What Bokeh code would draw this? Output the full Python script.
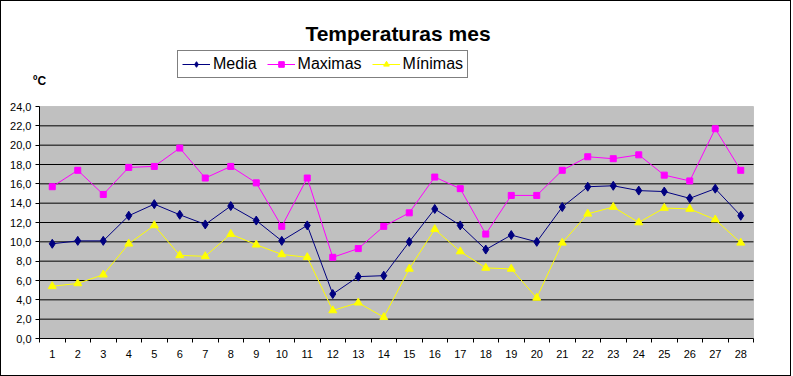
from bokeh.plotting import figure
from bokeh.layouts import column
from bokeh.models import (Range1d, FixedTicker, CustomJSTickFormatter, Legend, LegendItem,
                          Label, BoxAnnotation)
from bokeh.embed import file_html
from bokeh.resources import INLINE

dias = list(range(1, 29))
media = [9.8, 10.1, 10.1, 12.7, 13.9, 12.8, 11.8, 13.7, 12.2, 10.1, 11.7, 4.6, 6.4, 6.5,
         10.0, 13.4, 11.7, 9.2, 10.7, 10.0, 13.6, 15.7, 15.8, 15.3, 15.2, 14.5, 15.5, 12.7]
maximas = [15.7, 17.4, 14.9, 17.7, 17.8, 19.7, 16.6, 17.8, 16.1, 11.6, 16.6, 8.4, 9.3, 11.6,
           13.0, 16.7, 15.5, 10.8, 14.8, 14.8, 17.4, 18.8, 18.6, 19.0, 16.9, 16.3, 21.7, 17.4]
minimas = [5.4, 5.7, 6.6, 9.8, 11.7, 8.6, 8.5, 10.8, 9.7, 8.7, 8.4, 2.9, 3.7, 2.2,
           7.2, 11.3, 9.0, 7.3, 7.2, 4.2, 9.9, 12.9, 13.6, 12.0, 13.5, 13.4, 12.3, 9.9]
y_ticks = list(range(0, 25, 2))
y_min, y_max = 0, 24
x_min, x_max = 0.5, 28.5
titulo = "Temperaturas mes"
unidad = "ºC"
series = ["Media", "Maximas", "Mínimas"]

FONT = "Liberation Sans"

# canvas geometry (789 x 374 inside a 1px border); the frame covers the whole canvas
W, H = 789, 374
PL, PR, PT, PB = 38, 752, 105, 337      # canvas px of the grey plot area edges
sx = (PR - PL) / (x_max - x_min)
sy = (PB - PT) / (y_max - y_min)
x_start, x_end = x_min - PL / sx, x_max + (W - PR) / sx
y_start, y_end = y_min - (H - PB) / sy, y_max + PT / sy


def xdata(cx):
    return x_start + cx / sx


def ydata(cy):
    return y_end - cy / sy


p = figure(width=W, height=H, x_range=Range1d(x_start, x_end), y_range=Range1d(y_start, y_end),
           output_backend="svg", toolbar_location=None,
           min_border_left=0, min_border_right=0, min_border_top=0, min_border_bottom=0,
           background_fill_color="white", border_fill_color="white",
           outline_line_color=None)

# grey plot area
p.add_layout(BoxAnnotation(left=x_min, right=x_max, bottom=y_min, top=y_max,
                           fill_color="#C0C0C0", fill_alpha=1,
                           line_color="#808080", line_width=1, level="image"))

# x axis
p.xaxis.fixed_location = y_min
p.xaxis.bounds = (x_min, x_max)
p.xaxis.ticker = FixedTicker(ticks=dias, minor_ticks=[d - 0.5 for d in dias] + [x_max])
p.xaxis.major_tick_line_color = None
p.xaxis.major_tick_out = 0
p.xaxis.major_tick_in = 0
p.xaxis.minor_tick_out = 4
p.xaxis.minor_tick_in = 0
p.xaxis.minor_tick_line_color = "black"
p.xaxis.major_label_standoff = 7
# y axis
p.yaxis.fixed_location = x_min
p.yaxis.bounds = (y_min, y_max)
p.yaxis.ticker = FixedTicker(ticks=y_ticks, minor_ticks=[])
p.yaxis.major_tick_out = 4
p.yaxis.major_tick_in = 0
p.yaxis.minor_tick_line_color = None
p.yaxis.major_label_standoff = 4
p.yaxis.formatter = CustomJSTickFormatter(code="return tick.toFixed(1).replace('.', ',');")
for ax in (p.xaxis, p.yaxis):
    ax.axis_line_color = "black"
    ax.major_label_text_font = FONT
    ax.major_label_text_font_size = "11px"
    ax.major_label_text_color = "black"

p.xgrid.visible = False
p.ygrid.visible = False
grid_vals = y_ticks[1:-1]
p.segment(x0=[x_min] * len(grid_vals), x1=[x_max] * len(grid_vals), y0=grid_vals, y1=grid_vals,
          line_color="black", line_width=1)

# series
r1l = p.line(dias, media, line_color="#000080", line_width=1)
r1m = p.scatter(dias, media, marker="diamond", size=9, fill_color="#000080", line_color="#000080")
r2l = p.line(dias, maximas, line_color="#FF00FF", line_width=1)
r2m = p.scatter(dias, maximas, marker="square", size=6, fill_color="#FF00FF", line_color="#FF00FF")
r3l = p.line(dias, minimas, line_color="#FFFF00", line_width=1)
r3m = p.scatter(dias, minimas, marker="triangle", size=8, fill_color="#FFFF00", line_color="#FFFF00")

legend = Legend(items=[LegendItem(label=series[0], renderers=[r1l, r1m]),
                       LegendItem(label=series[1], renderers=[r2l, r2m]),
                       LegendItem(label=series[2], renderers=[r3l, r3m])],
                orientation="horizontal", location=(176, H - 77),
                padding=4, spacing=10, glyph_width=28, glyph_height=14, label_height=14,
                label_standoff=3, label_text_font=FONT, label_text_font_size="16px",
                label_text_color="black",
                border_line_color="black", border_line_width=1,
                background_fill_color="white", background_fill_alpha=1)
p.add_layout(legend, "center")

p.add_layout(Label(x=xdata(396.5), y=ydata(32.3), text=titulo, text_font=FONT,
                   text_font_style="bold", text_font_size="21px", text_align="center",
                   text_baseline="alphabetic", text_color="black"))
p.add_layout(Label(x=xdata(31.5), y=ydata(79.5), text=unidad, text_font=FONT,
                   text_font_style="bold", text_font_size="12px", text_align="left",
                   text_baseline="alphabetic", text_color="black"))

layout = column(p, styles={"border": "1px solid black"})
open("out.html", "w").write(file_html(layout, INLINE))
